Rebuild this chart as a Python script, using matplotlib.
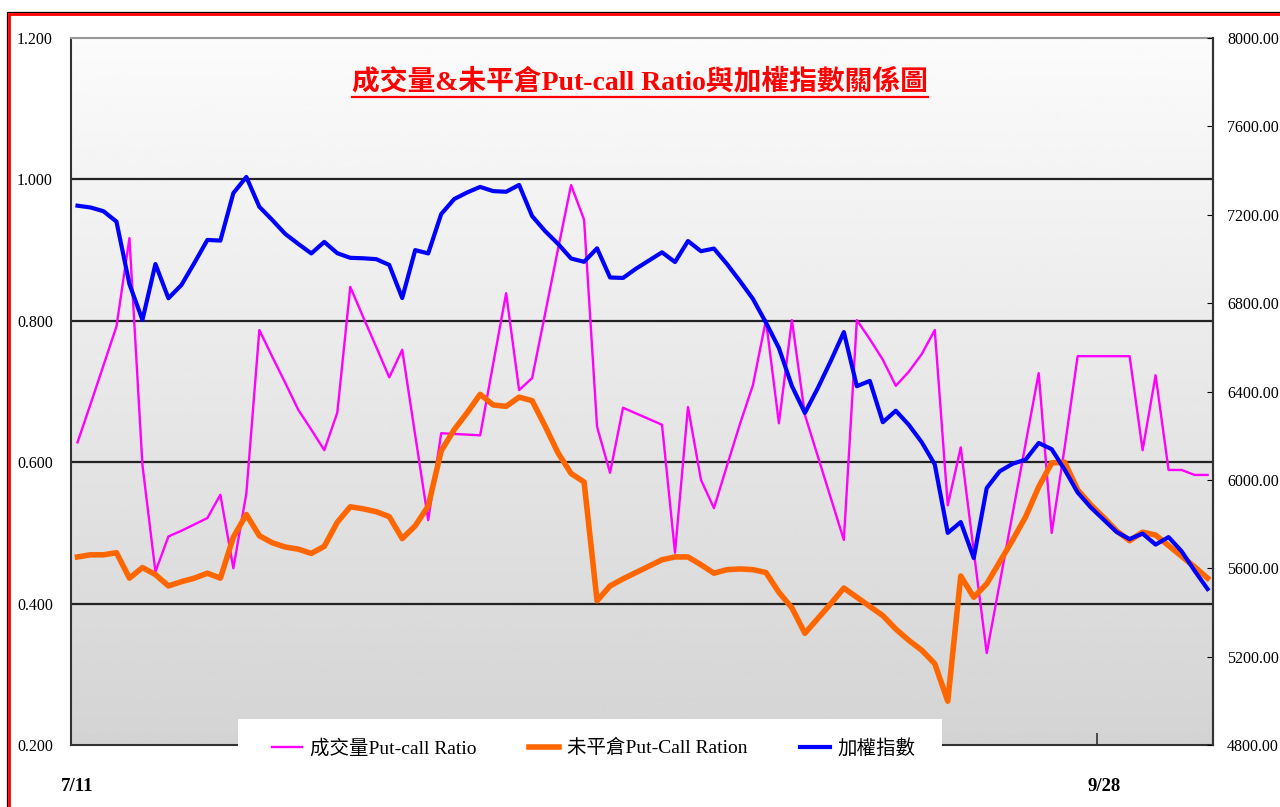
import matplotlib.pyplot as plt
import numpy as np
import pandas as pd
from matplotlib.patches import Rectangle
from matplotlib.lines import Line2D

plt.rcParams['font.family'] = ['Liberation Serif', 'Noto Sans CJK TC']

# daily data 7/11 ~ 10/6
dates = pd.date_range('2008-07-11', '2008-10-06')
date_labels = [f'{d.month}/{d.day}' for d in dates]
shown_labels = ['7/11', '9/28']

# 成交量 Put/Call ratio
vol_pcr = [0.628, 0.682, 0.737, 0.792, 0.917, 0.596, 0.445, 0.495, 0.503, 0.512,
           0.521, 0.554, 0.450, 0.556, 0.787, 0.749, 0.712, 0.674, 0.646, 0.617,
           0.670, 0.848, 0.805, 0.763, 0.720, 0.759, 0.638, 0.518, 0.641, 0.640,
           0.639, 0.638, 0.739, 0.839, 0.702, 0.719, 0.810, 0.902, 0.992, 0.943,
           0.650, 0.585, 0.677, 0.669, 0.661, 0.653, 0.472, 0.678, 0.575, 0.535,
           0.595, 0.654, 0.709, 0.801, 0.655, 0.801, 0.667, 0.608, 0.549, 0.490,
           0.801, 0.774, 0.745, 0.708, 0.728, 0.753, 0.787, 0.539, 0.621, 0.474,
           0.330, 0.429, 0.528, 0.627, 0.726, 0.500, 0.621, 0.750, 0.750, 0.750,
           0.750, 0.750, 0.617, 0.723, 0.589, 0.589, 0.582, 0.582]

# 未平倉 Put/Call ratio
oi_pcr = [0.466, 0.469, 0.469, 0.472, 0.436, 0.451, 0.441, 0.425, 0.431, 0.436,
          0.443, 0.436, 0.494, 0.526, 0.496, 0.486, 0.480, 0.477, 0.471, 0.481,
          0.515, 0.537, 0.534, 0.530, 0.523, 0.492, 0.510, 0.538, 0.616, 0.646,
          0.670, 0.696, 0.681, 0.679, 0.692, 0.687, 0.651, 0.613, 0.584, 0.572,
          0.404, 0.425, 0.435, 0.444, 0.453, 0.462, 0.466, 0.466, 0.455, 0.443,
          0.448, 0.449, 0.448, 0.444, 0.416, 0.394, 0.358, 0.379, 0.400, 0.422,
          0.409, 0.396, 0.383, 0.364, 0.348, 0.334, 0.315, 0.262, 0.439, 0.409,
          0.428, 0.459, 0.490, 0.523, 0.565, 0.599, 0.600, 0.561, 0.540, 0.522,
          0.503, 0.489, 0.501, 0.497, 0.482, 0.467, 0.452, 0.436]

# 加權指數
taiex = [7241, 7233, 7216, 7169, 6886, 6724, 6977, 6822, 6882, 6982,
         7086, 7083, 7298, 7371, 7236, 7176, 7113, 7068, 7025, 7077,
         7026, 7005, 7003, 6999, 6973, 6823, 7040, 7025, 7203, 7271,
         7301, 7326, 7307, 7304, 7335, 7194, 7126, 7068, 7002, 6987,
         7048, 6916, 6914, 6956, 6993, 7030, 6986, 7081, 7035, 7047,
         6977, 6900, 6819, 6712, 6597, 6425, 6303, 6416, 6539, 6669,
         6424, 6448, 6261, 6313, 6249, 6170, 6070, 5760, 5809, 5646,
         5963, 6039, 6073, 6092, 6167, 6139, 6046, 5943, 5876, 5820,
         5764, 5732, 5757, 5707, 5741, 5677, 5589, 5506]

x = np.arange(len(dates))

fig = plt.figure(figsize=(12.8, 8.07), dpi=100)
ax = fig.add_axes([71/1280, 1-745/807, (1213-71)/1280, (745-38)/807])
ax2 = ax.twinx()

ax.set_xlim(-0.5, len(dates) - 0.58)
ax.set_ylim(0.2, 1.2)
ax2.set_ylim(4800, 8000)

# gray gradient background
grad = np.linspace(0.83, 0.985, 256).reshape(-1, 1)
ax.imshow(grad, cmap='gray', vmin=0, vmax=1, origin='lower', aspect='auto',
          extent=[-0.5, len(dates) - 0.58, 0.2, 1.2], zorder=0)

for yv in [0.4, 0.6, 0.8, 1.0]:
    ax.axhline(yv, color='#222222', lw=1.6, zorder=1)

l1, = ax.plot(x, vol_pcr, color='#FF00FF', lw=1.7, zorder=3)
l2, = ax.plot(x, oi_pcr, color='#FF6600', lw=4.0, zorder=4)
l3, = ax2.plot(x, taiex, color='#0000FF', lw=3.0, zorder=5)

ax.set_yticks(np.arange(0.2, 1.21, 0.2))
ax.set_yticklabels([f'{v:.3f}' for v in np.arange(0.2, 1.21, 0.2)])
ax.tick_params(axis='y', length=0, pad=13, labelsize=11.5)
ax2.set_yticks(np.arange(4800, 8001, 400))
ax2.set_yticklabels([f'{v:.2f}' for v in np.arange(4800, 8001, 400)])
ax2.tick_params(axis='y', direction='in', length=4, pad=10, labelsize=11.5)

tick_pos = [date_labels.index(s) for s in shown_labels]
ax.set_xticks(tick_pos)
ax.set_xticklabels(shown_labels, fontweight='bold', fontsize=13.5)
ax.tick_params(axis='x', length=0, pad=24)
ax.set_xticks([tick_pos[1] - 0.5], minor=True)
ax.tick_params(axis='x', which='minor', direction='in', length=9, width=1.2, color='#333333')

for a in (ax, ax2):
    for s in a.spines.values():
        s.set_linewidth(1.5)
        s.set_color('#333333')
ax.spines['top'].set_color('#999999')
ax2.spines['top'].set_visible(False)
ax2.spines['left'].set_visible(False)
ax2.spines['bottom'].set_visible(False)

title = ax.text(0.5, 1 - 82/807, '成交量&未平倉Put-call Ratio與加權指數關係圖',
                transform=fig.transFigure, ha='center', va='center',
                color='red', fontsize=20, fontweight='bold', zorder=10)

# white legend box over the bottom of the plot
fig.patches.append(Rectangle((238/1280, -0.01), (942-238)/1280, (807-719)/807 + 0.01,
                             transform=fig.transFigure, facecolor='white',
                             edgecolor='none', zorder=3))
fig.legend([l1, l2, l3], ['成交量Put-call Ratio', '未平倉Put-Call Ration', '加權指數'],
           loc='center left', bbox_to_anchor=(262/1280, 1 - 748/807), ncol=3,
           frameon=False, fontsize=14, handlelength=1.55, handletextpad=0.4,
           columnspacing=2.7, borderpad=0)

# frame around the picture
fig.patches.append(Rectangle((7/1280, -0.05), 1.1, 1.05 - 12/807,
                             transform=fig.transFigure, fill=False,
                             edgecolor='black', lw=0.9, zorder=20))
fig.patches.append(Rectangle((9/1280, -0.05), 1.1, 1.05 - 14/807,
                             transform=fig.transFigure, fill=False,
                             edgecolor='red', lw=2.0, zorder=20))

# underline the title
fig.canvas.draw()
bb = title.get_window_extent().transformed(fig.transFigure.inverted())
fig.lines.append(Line2D([bb.x0, bb.x1], [bb.y0 - 0.002, bb.y0 - 0.002],
                        transform=fig.transFigure, color='red', lw=1.6))

fig.savefig('out.png', dpi=100)
